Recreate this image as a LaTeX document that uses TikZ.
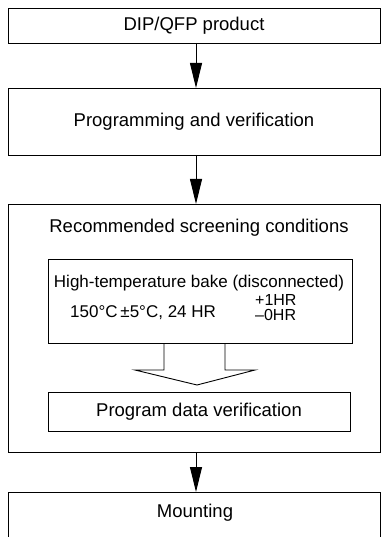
\documentclass[tikz,border=0pt]{standalone}
\usepackage{fontspec}
\setmainfont{Liberation Sans}
\usetikzlibrary{arrows.meta}
\tikzset{
  box/.style={draw, line width=0.9pt, inner sep=0pt, outer sep=0pt, font=\fontsize{18.5}{20}\selectfont},
  txt/.style={inner sep=0pt, font=\fontsize{18.5}{20}\selectfont},
  stxt/.style={inner sep=0pt, font=\fontsize{17}{18}\selectfont},
  flow/.style={line width=0.9pt, -{Triangle[length=25pt,width=12pt]}},
  hollow/.style={line width=0.9pt, line join=miter}
}
\begin{document}
\begin{tikzpicture}[x=1pt,y=-1pt]
\clip (0,0) rectangle (381,537);
\fill[white] (0,0) rectangle (381,537);
% boxes
\node[box, minimum width=372pt, minimum height=35pt] (b1) at (194,25.5) {DIP/QFP product};
\node[box, minimum width=372pt, minimum height=67pt] (b2) at (194,121.5) {Programming and verification};
\node[box, minimum width=372pt, minimum height=248pt] (b3) at (194,328) {};
\node[box, minimum width=304pt, minimum height=84pt] (bake) at (200,301) {};
\node[box, minimum width=302pt, minimum height=39pt] (pdv) at (199,411.5) {Program data verification};
\node[box, minimum width=372pt, minimum height=90pt, anchor=north] (b4) at (194,492) {};
% texts
\node[txt, anchor=base] (rsc) at (199,232) {Recommended screening conditions};
\node[stxt, anchor=base] (htb) at (199,287) {High-temperature bake (disconnected)};
\node[stxt, anchor=base west] (temp) at (70,317) {150°C\,±5°C, 24 HR};
\node[stxt, anchor=north west, align=left, font=\fontsize{16}{15.5}\selectfont] (tol) at (255,294) {+1HR\\–0HR};
\node[txt, anchor=base] (mnt) at (195,517) {Mounting};
% arrow axis
\coordinate (ax) at (196,0);
\coordinate (sl) at (164,0);
\coordinate (sr) at (225,0);
\draw[flow] (b1.south -| ax) -- (b2.north -| ax);
\draw[flow] (b2.south -| ax) -- (b3.north -| ax);
\draw[flow] (b3.south -| ax) -- (b4.north -| ax);
% hollow arrow
\coordinate (hl) at (135,370);
\coordinate (ht) at (197,385);
\coordinate (hr) at (255,370);
\draw[hollow] (bake.south -| sl) -- (sl |- hl) -- (hl) -- (ht) -- (hr) -- (sr |- hr) -- (bake.south -| sr);
\end{tikzpicture}
\end{document}
